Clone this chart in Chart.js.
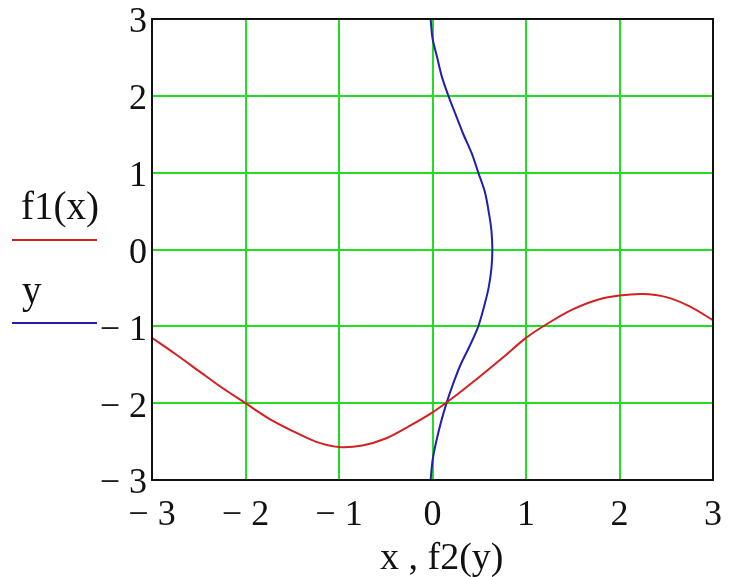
<!DOCTYPE html>
<html>
<head>
<meta charset="utf-8">
<script src="https://cdn.jsdelivr.net/npm/chart.js@4/dist/chart.umd.min.js"></script>
<style>
  html, body { margin: 0; padding: 0; background: #fff; }
  #wrap { position: relative; width: 731px; height: 577px; overflow: hidden; }
  .leg { position: absolute; font-family: "Liberation Serif", "Times New Roman", serif; font-size: 39px; line-height: 1; color: #111; white-space: pre; }
  .legline { position: absolute; height: 2px; }
</style>
</head>
<body>
<div id="wrap">
  <canvas id="plot" width="731" height="577"></canvas>
  <div class="leg" style="left:21px; top:186px;">f1(x)</div>
  <div class="legline" style="left:12px; top:239px; width:85px; background:#d42020;"></div>
  <div class="leg" style="left:22px; top:270px;">y</div>
  <div class="legline" style="left:12px; top:322px; width:85px; background:#2020b0;"></div>
  <div class="leg" style="left:380px; top:537px; font-size:38px;">x , f2(y)</div>
</div>
<script>
// f1(x)
const xVals = [-3, -2.75, -2.5, -2.25, -2, -1.75, -1.5, -1.25, -1, -0.75, -0.5, -0.25, 0,
               0.25, 0.5, 0.75, 1, 1.25, 1.5, 1.75, 2, 2.25, 2.5, 2.75, 3];
const f1Vals = [-1.15, -1.36, -1.58, -1.8, -2.0, -2.2, -2.36, -2.5, -2.57, -2.55, -2.46, -2.3, -2.12,
                -1.9, -1.66, -1.41, -1.15, -0.95, -0.78, -0.66, -0.6, -0.58, -0.62, -0.74, -0.92];

// y against f2(y)
const yVals = [3, 2.75, 2.5, 2.25, 2, 1.75, 1.5, 1.25, 1, 0.75, 0.5, 0.25, 0,
               -0.25, -0.5, -0.75, -1, -1.25, -1.5, -1.75, -2, -2.25, -2.5, -2.75, -3];
const f2Vals = [-0.02, 0.0, 0.05, 0.1, 0.17, 0.25, 0.33, 0.42, 0.49, 0.56, 0.6, 0.63, 0.64,
                0.63, 0.6, 0.55, 0.49, 0.4, 0.3, 0.22, 0.15, 0.09, 0.04, 0.0, -0.02];

const tickVals = [-3, -2, -1, 0, 1, 2, 3];

const tickFont = { family: '"Liberation Serif", "Times New Roman", serif', size: 36, lineHeight: 1 };
const fmt = v => v < 0 ? '\u2212 ' + Math.abs(v) : String(v);

const ctx = document.getElementById('plot').getContext('2d');
new Chart(ctx, {
    type: 'scatter',
    data: {
        datasets: [
            {
                label: 'f1(x)',
                data: xVals.map((x, i) => ({ x: x, y: f1Vals[i] })),
                showLine: true,
                borderColor: '#d42020',
                borderWidth: 2,
                pointRadius: 0,
                tension: 0.3
            },
            {
                label: 'y',
                data: yVals.map((y, i) => ({ x: f2Vals[i], y: y })),
                showLine: true,
                borderColor: '#2020b0',
                borderWidth: 2,
                pointRadius: 0,
                tension: 0.3
            }
        ]
    },
    options: {
        responsive: false,
        animation: false,
        layout: { padding: { top: 19, right: 18, left: 0, bottom: 0 } },
        plugins: { legend: { display: false }, tooltip: { enabled: false } },
        scales: {
            x: {
                type: 'linear', min: -3, max: 3,
                afterBuildTicks: s => { s.ticks = tickVals.map(v => ({ value: v })); },
                afterFit: s => { s.height = 97; s.paddingLeft = 0; s.paddingRight = 0; },
                grid: { color: '#22dd22', lineWidth: 2, drawTicks: false },
                border: { color: '#111', width: 2 },
                ticks: { color: '#111', font: tickFont, padding: 18, maxRotation: 0, callback: fmt }
            },
            y: {
                type: 'linear', min: -3, max: 3,
                afterBuildTicks: s => { s.ticks = tickVals.map(v => ({ value: v })); },
                afterFit: s => { s.width = 152; s.paddingTop = 0; s.paddingBottom = 0; },
                grid: { color: '#22dd22', lineWidth: 2, drawTicks: false },
                border: { color: '#111', width: 2 },
                ticks: { color: '#111', font: tickFont, padding: 5, labelOffset: 4, callback: fmt }
            }
        }
    },
    plugins: [{
        id: 'frame',
        afterDatasetsDraw(chart) {
            const a = chart.chartArea, c = chart.ctx;
            c.save();
            c.strokeStyle = '#111';
            c.lineWidth = 2;
            c.strokeRect(a.left, a.top, a.right - a.left, a.bottom - a.top);
            c.restore();
        }
    }]
});
</script>
</body>
</html>
